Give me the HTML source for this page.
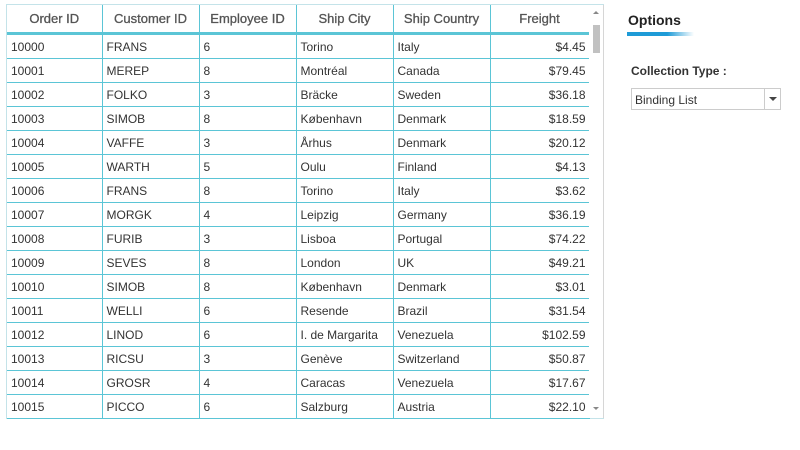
<!DOCTYPE html>
<html><head><meta charset="utf-8"><style>
body{margin:0;width:800px;height:450px;background:#fff;font-family:"Liberation Sans",sans-serif;position:relative;overflow:hidden}
#grid{position:absolute;left:6px;top:4px;width:598px;height:415px;border:1px solid #c4e3e9;box-sizing:border-box}
table{position:absolute;left:0;top:0;border-collapse:collapse;table-layout:fixed;width:582px}
th{height:27px;font-size:13px;color:#555;font-weight:normal;text-align:center;border-right:1px solid #5bc5d6;border-bottom:3px solid #5bc5d6;padding:0;-webkit-text-stroke:0.3px #555}
td{height:23px;font-size:12px;color:#333;border:1px solid #5bc5d6;border-left:none;border-top:none;padding:0 0 0 4px;white-space:nowrap;overflow:hidden}
td.r{text-align:right;padding:0 3px 0 0}
#sb{position:absolute;left:582px;top:0;width:14px;height:413px;background:#fff;border-right:1px solid #d6d6d6}
#thumb{position:absolute;left:4px;top:20px;width:7px;height:28px;background:#c1c1c1}
.arr{position:absolute;left:4px;width:0;height:0;border-left:3px solid transparent;border-right:3px solid transparent}
</style></head><body>
<div id="grid">
<table>
<colgroup><col style="width:95px"><col style="width:97px"><col style="width:97px"><col style="width:97px"><col style="width:97px"><col style="width:99px"></colgroup>
<thead><tr>
<th>Order ID</th>
<th>Customer ID</th>
<th>Employee ID</th>
<th>Ship City</th>
<th>Ship Country</th>
<th>Freight</th>
</tr></thead>
<tbody id="tb"></tbody>
</table>
<div id="sb">
<div class="arr" style="top:6px;border-bottom:3px solid #888"></div>
<div id="thumb"></div>
<div class="arr" style="top:402px;border-top:3px solid #888"></div>
</div>
</div>
<div style="position:absolute;left:628px;top:12px;font-size:14px;font-weight:bold;color:#222">Options</div>
<div style="position:absolute;left:627px;top:32px;width:67px;height:4px;background:linear-gradient(to right,#1e9bd7 60%,#fff)"></div>
<div style="position:absolute;left:631px;top:64px;font-size:12px;font-weight:bold;color:#333">Collection Type :</div>
<div style="position:absolute;left:631px;top:88px;width:150px;height:22px;border:1px solid #ccc;box-sizing:border-box;font-size:12px;color:#333">
<span style="position:absolute;left:3px;top:4px">Binding List</span>
<div style="position:absolute;left:132px;top:0;width:1px;height:20px;background:#ccc"></div>
<div style="position:absolute;left:137px;top:8px;border-left:4px solid transparent;border-right:4px solid transparent;border-top:4px solid #444"></div>
</div>
<script>
const rows=[["10000","FRANS","6","Torino","Italy","$4.45"],["10001","MEREP","8","Montréal","Canada","$79.45"],["10002","FOLKO","3","Bräcke","Sweden","$36.18"],["10003","SIMOB","8","København","Denmark","$18.59"],["10004","VAFFE","3","Århus","Denmark","$20.12"],["10005","WARTH","5","Oulu","Finland","$4.13"],["10006","FRANS","8","Torino","Italy","$3.62"],["10007","MORGK","4","Leipzig","Germany","$36.19"],["10008","FURIB","3","Lisboa","Portugal","$74.22"],["10009","SEVES","8","London","UK","$49.21"],["10010","SIMOB","8","København","Denmark","$3.01"],["10011","WELLI","6","Resende","Brazil","$31.54"],["10012","LINOD","6","I. de Margarita","Venezuela","$102.59"],["10013","RICSU","3","Genève","Switzerland","$50.87"],["10014","GROSR","4","Caracas","Venezuela","$17.67"],["10015","PICCO","6","Salzburg","Austria","$22.10"]];
const tb=document.getElementById('tb');
rows.forEach(r=>{const tr=document.createElement('tr');


r.forEach((v,i)=>{const td=document.createElement('td');td.textContent=v;if(i==5)td.className='r';


tr.appendChild(td);});tb.appendChild(tr);});
</script>
</body></html>
